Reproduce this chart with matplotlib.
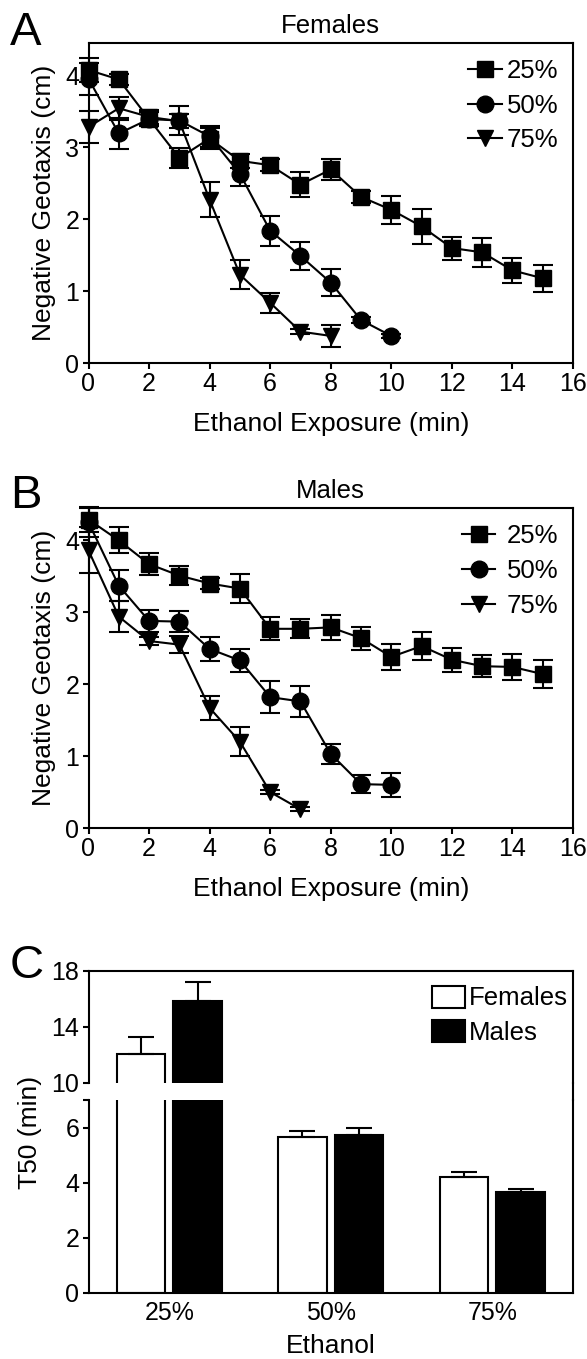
import numpy as np
import matplotlib
matplotlib.use("Agg")
from matplotlib import pyplot as plt
from matplotlib.lines import Line2D
from matplotlib.patches import Patch

plt.rcParams['font.family'] = ['Liberation Sans', 'DejaVu Sans']

# Panel A - females, negative geotaxis (cm) vs ethanol exposure (min)
fem25 = [4.07, 3.94, 3.39, 2.85, 3.12, 2.81, 2.75, 2.48, 2.69, 2.31, 2.13, 1.90, 1.60, 1.54, 1.29, 1.18]
fem25_err = [0.17, 0.08, 0.10, 0.14, 0.14, 0.10, 0.08, 0.17, 0.15, 0.08, 0.19, 0.24, 0.16, 0.20, 0.17, 0.19]
fem50 = [3.95, 3.19, 3.39, 3.37, 3.15, 2.63, 1.84, 1.49, 1.12, 0.60, 0.38]
fem50_err = [0.22, 0.22, 0.10, 0.20, 0.15, 0.17, 0.21, 0.20, 0.19, 0.04, 0.03]
fem75 = [3.28, 3.54, 3.42, 3.36, 2.27, 1.23, 0.84, 0.44, 0.38]
fem75_err = [0.22, 0.16, 0.10, 0.10, 0.24, 0.20, 0.14, 0.04, 0.15]

# Panel B - males
male25 = [4.29, 4.00, 3.67, 3.51, 3.40, 3.33, 2.77, 2.77, 2.79, 2.64, 2.38, 2.53, 2.34, 2.25, 2.24, 2.14]
male25_err = [0.17, 0.18, 0.15, 0.13, 0.08, 0.20, 0.16, 0.13, 0.17, 0.16, 0.18, 0.19, 0.17, 0.15, 0.18, 0.20]
male50 = [4.25, 3.37, 2.88, 2.87, 2.49, 2.33, 1.82, 1.76, 1.03, 0.61, 0.60]
male50_err = [0.20, 0.22, 0.15, 0.15, 0.17, 0.16, 0.22, 0.22, 0.14, 0.13, 0.17]
male75 = [3.86, 2.94, 2.60, 2.55, 1.67, 1.20, 0.50, 0.26]
male75_err = [0.32, 0.22, 0.05, 0.12, 0.17, 0.20, 0.03, 0.03]

conc_labels = ["25%", "50%", "75%"]

# Panel C - T50 (min)
t50_fem = [12.04, 5.65, 4.19]
t50_fem_err = [1.27, 0.23, 0.19]
t50_male = [15.87, 5.73, 3.66]
t50_male_err = [1.32, 0.27, 0.11]

W, H = 587, 1359
fig = plt.figure(figsize=(W / 100, H / 100), dpi=100)

def rect(l, t, r, b):
    return [l / W, 1 - b / H, (r - l) / W, (b - t) / H]

LW = 1.5
FS = 18     # tick labels
LFS = 19    # axis labels
GFS = 18.5  # legends / titles

def style(ax):
    for s in ax.spines.values():
        s.set_linewidth(LW)
    ax.tick_params(width=LW, length=4.5, labelsize=FS, pad=2)

def geotaxis(ax, series, title, textpad, anchor):
    for y, e, mk, lab in series:
        t = np.arange(len(y))
        eb = ax.errorbar(t, y, yerr=e, fmt='none', ecolor='black', elinewidth=LW,
                         capsize=7, capthick=LW, zorder=2)
        for a in eb.get_children():
            a.set_clip_on(False)
        ax.plot(t, y, color='black', lw=LW, marker=mk, ms=12, label=lab,
                zorder=3, clip_on=False)
    ax.set_xlim(0, 16)
    ax.set_ylim(0, 4.45)
    ax.set_xticks(range(0, 17, 2))
    ax.set_yticks(range(0, 5))
    style(ax)
    ax.set_title(title, fontsize=GFS, pad=7)
    ax.set_xlabel("Ethanol Exposure (min)", fontsize=LFS, va='center')
    ax.xaxis.set_label_coords(0.5, -0.19)
    ax.set_ylabel("Negative Geotaxis (cm)", fontsize=LFS, va='center')
    ax.yaxis.set_label_coords(-0.092, 0.5)
    ax.legend(loc='upper right', bbox_to_anchor=anchor, frameon=False, fontsize=GFS,
              handlelength=1.3, handletextpad=textpad, labelspacing=0.42,
              borderpad=0, borderaxespad=0)

axA = fig.add_axes(rect(88.5, 42.7, 573, 363.3))
geotaxis(axA, [(fem25, fem25_err, 's', conc_labels[0]),
               (fem50, fem50_err, 'o', conc_labels[1]),
               (fem75, fem75_err, 'v', conc_labels[2])],
         "Females", 0.2, (0.97, 0.95))

axB = fig.add_axes(rect(88.5, 508, 573, 828))
geotaxis(axB, [(male25, male25_err, 's', conc_labels[0]),
               (male50, male50_err, 'o', conc_labels[1]),
               (male75, male75_err, 'v', conc_labels[2])],
         "Males", 0.45, (0.97, 0.95))

# Panel C - broken y axis
ax_up = fig.add_axes(rect(88.5, 971, 573, 1083))
ax_lo = fig.add_axes(rect(88.5, 1100, 573, 1292.7))
gx = np.arange(len(conc_labels))
zeros = np.zeros(len(gx))
for ax in (ax_up, ax_lo):
    ax.bar(gx - 0.175, t50_fem, 0.3, color='white', edgecolor='black', lw=LW,
           yerr=[zeros, t50_fem_err], capsize=9.4,
           error_kw=dict(elinewidth=LW, capthick=LW, ecolor='black'))
    ax.bar(gx + 0.175, t50_male, 0.3, color='black', edgecolor='black', lw=LW,
           yerr=[zeros, t50_male_err], capsize=9.4,
           error_kw=dict(elinewidth=LW, capthick=LW, ecolor='black'))
    ax.set_xlim(-0.5, 2.5)
    style(ax)

ax_up.set_ylim(10, 18)
ax_up.set_yticks([10, 14, 18])
ax_up.spines['bottom'].set_visible(False)
ax_up.set_xticks([])

ax_lo.set_ylim(0, 7)
ax_lo.set_yticks([0, 2, 4, 6, 7])
ax_lo.set_yticklabels(['0', '2', '4', '6', ''])
ax_lo.spines['top'].set_visible(False)
ax_lo.set_xticks(gx)
ax_lo.set_xticklabels(conc_labels)
ax_lo.tick_params(axis='x', length=0, pad=6)
ax_lo.set_xlabel("Ethanol", fontsize=LFS, va='center')
ax_lo.xaxis.set_label_coords(0.5, -0.275)

# right spine continues through the break
xr = 573 / W
fig.add_artist(Line2D([xr, xr], [1 - 1100 / H, 1 - 1083 / H], transform=fig.transFigure,
                      color='black', lw=LW))

ax_up.legend(handles=[Patch(facecolor='white', edgecolor='black', lw=LW, label="Females"),
                      Patch(facecolor='black', edgecolor='black', lw=LW, label="Males")],
             loc='upper right', bbox_to_anchor=(0.99, 0.87), frameon=False, fontsize=GFS,
             handlelength=1.3, handleheight=0.95, handletextpad=0.15, labelspacing=0.38,
             borderpad=0, borderaxespad=0)

fig.text(30 / W, 1 - 1132 / H, "T50 (min)", rotation=90, fontsize=LFS,
         ha='center', va='center')

for letter, base in (("A", 45), ("B", 508), ("C", 978)):
    fig.text(10 / W, 1 - base / H, letter, fontsize=34, ha='left', va='baseline')

fig.savefig("out.png", dpi=100)
